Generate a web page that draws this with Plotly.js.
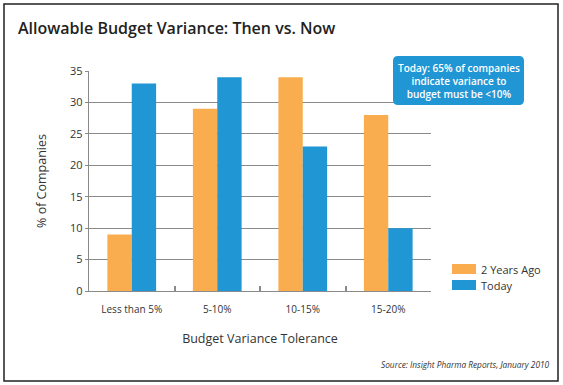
<!DOCTYPE html>
<html>
<head>
<meta charset="utf-8">
<script src="https://cdn.plot.ly/plotly-3.0.1.min.js"></script>
<style>html,body{margin:0;padding:0;background:#fff;}#chart{width:563px;height:385px;}</style>
</head>
<body>
<div id="chart"></div>
<script>
// ---- data ----
var categories = ["Less than 5%", "5-10%", "10-15%", "15-20%"];
var seriesNames = ["2 Years Ago", "Today"];
var twoYearsAgo = [9, 29, 34, 28];
var today = [33, 34, 23, 10];
var yTicks = [0, 5, 10, 15, 20, 25, 30, 35];
var titleText = "Allowable Budget Variance: Then vs. Now";
var xTitle = "Budget Variance Tolerance";
var yTitle = "% of Companies";
var calloutText = "Today: 65% of companies<br>indicate variance to<br>budget must be &lt;10%";
var sourceText = "Source: Insight Pharma Reports, January 2010";

var ORANGE = "#f9ad4f";
var BLUE = "#2196d5";
var FONT = "Open Sans, Noto Sans, sans-serif";

var traces = [
  {type: "bar", x: categories, y: twoYearsAgo, name: seriesNames[0], marker: {color: ORANGE}, showlegend: false, hoverinfo: "y"},
  {type: "bar", x: categories, y: today, name: seriesNames[1], marker: {color: BLUE}, showlegend: false, hoverinfo: "y"}
];

// pixel -> paper helpers (plot area: x 89..431, y 71..291)
var L = 89, R = 431, T = 71, B = 291;
function px(x){ return (x - L) / (R - L); }
function py(y){ return (B - y) / (B - T); }
function roundRect(x0, y0, x1, y1, r){
  var rx = r / (R - L), ry = r / (B - T);
  var a = px(x0), b = px(x1), c = py(y0), d = py(y1);
  return "M" + (a + rx) + "," + c +
    " L" + (b - rx) + "," + c +
    " Q" + b + "," + c + " " + b + "," + (c - ry) +
    " L" + b + "," + (d + ry) +
    " Q" + b + "," + d + " " + (b - rx) + "," + d +
    " L" + (a + rx) + "," + d +
    " Q" + a + "," + d + " " + a + "," + (d + ry) +
    " L" + a + "," + (c - ry) +
    " Q" + a + "," + c + " " + (a + rx) + "," + c + " Z";
}

// custom legend (swatch + label for each series)
var legendColors = [ORANGE, BLUE];
var legendShapes = [], legendAnns = [];
seriesNames.forEach(function(name, i){
  var top = 264 + i * 16;
  legendShapes.push({type: "rect", xref: "paper", yref: "paper",
    x0: px(452), x1: px(476), y0: py(top), y1: py(top + 10),
    fillcolor: legendColors[i], line: {width: 0}});
  legendAnns.push({xref: "paper", yref: "paper", x: px(479), y: py(top + 5),
    xanchor: "left", yanchor: "middle", text: name, showarrow: false,
    font: {family: FONT, size: 11, color: "#333"}});
});

var layout = {
  width: 563, height: 385,
  margin: {l: L, r: 563 - R, t: T, b: 385 - B},
  paper_bgcolor: "#fff", plot_bgcolor: "#fff",
  font: {family: FONT, color: "#333", size: 11},
  showlegend: false,
  title: {
    text: titleText,
    font: {family: FONT, size: 16, color: "#222", weight: 600},
    x: 18 / 563, xanchor: "left", xref: "container",
    y: 1 - 28 / 385, yanchor: "middle", yref: "container"
  },
  barmode: "group",
  bargap: 0.43,
  bargroupgap: 0,
  xaxis: {
    type: "category",
    showgrid: false,
    showline: true, linecolor: "#8a8a8a", linewidth: 1.2,
    ticks: "inside", tickson: "boundaries", ticklen: 5, tickcolor: "#8a8a8a", tickwidth: 2,
    ticklabelstandoff: 9,
    tickfont: {size: 10, color: "#333"},
    title: {text: xTitle, font: {size: 12.5, color: "#333"}, standoff: 19},
    fixedrange: true
  },
  yaxis: {
    range: [0, 35],
    tickvals: yTicks,
    showgrid: true, gridcolor: "#8a8a8a", gridwidth: 1,
    showline: true, linecolor: "#8a8a8a", linewidth: 1.2,
    ticks: "outside", ticklen: 3, tickcolor: "#8a8a8a",
    tickfont: {size: 11, color: "#333"},
    title: {text: yTitle, font: {size: 12.5, color: "#333"}, standoff: 20},
    zeroline: false,
    fixedrange: true
  },
  shapes: [
    {type: "rect", xref: "paper", yref: "paper", x0: px(4), x1: px(558), y0: py(4), y1: py(381),
     line: {color: "#222", width: 1.5}, fillcolor: "rgba(0,0,0,0)", layer: "below"},
    {type: "path", xref: "paper", yref: "paper", path: roundRect(393, 56, 524, 105, 5),
     fillcolor: BLUE, line: {width: 0}, layer: "above"}
  ].concat(legendShapes),
  annotations: [
    {xref: "paper", yref: "paper", x: px(458.5), y: py(81), xanchor: "center", yanchor: "middle",
     text: calloutText, showarrow: false, align: "center",
     font: {family: FONT, size: 10, color: "#fff", weight: 600}},
    {xref: "paper", yref: "paper", x: px(552), y: py(364), xanchor: "right", yanchor: "middle",
     text: "<i>" + sourceText + "</i>", showarrow: false,
     font: {family: FONT, size: 8.3, color: "#333"}}
  ].concat(legendAnns)
};

Plotly.newPlot("chart", traces, layout, {displayModeBar: false, staticPlot: true});
</script>
</body>
</html>
